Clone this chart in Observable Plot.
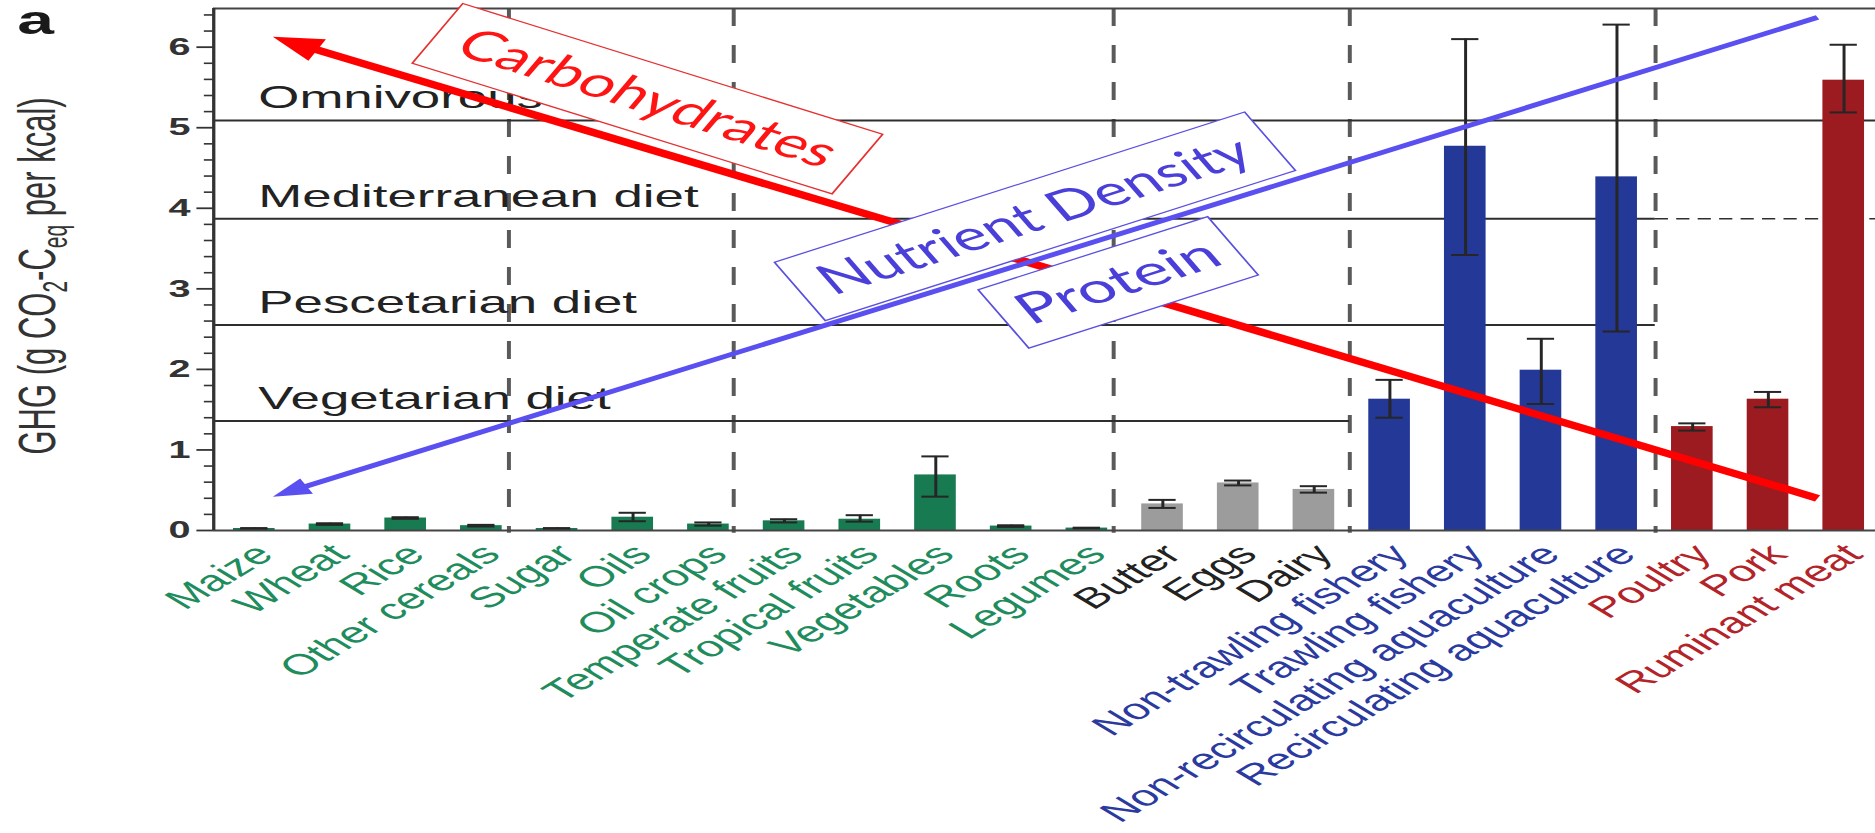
<!DOCTYPE html>
<html>
<head>
<meta charset="utf-8">
<script src="https://cdn.jsdelivr.net/npm/d3@7"></script>
<script src="https://cdn.jsdelivr.net/npm/@observablehq/plot@0.6"></script>
<style>
html, body { margin: 0; padding: 0; background: #fff; }
#chart svg { display: block; }
</style>
</head>
<body>
<div id="chart"></div>
<script>
// ---------- data ----------
const categories = ["Maize", "Wheat", "Rice", "Other cereals", "Sugar", "Oils", "Oil crops",
  "Temperate fruits", "Tropical fruits", "Vegetables", "Roots", "Legumes",
  "Butter", "Eggs", "Dairy",
  "Non-trawling fishery", "Trawling fishery", "Non-recirculating aquaculture", "Recirculating aquaculture",
  "Poultry", "Pork", "Ruminant meat"];
const foodGroups = ["plant", "plant", "plant", "plant", "plant", "plant", "plant",
  "plant", "plant", "plant", "plant", "plant",
  "animal", "animal", "animal",
  "fish", "fish", "fish", "fish",
  "meat", "meat", "meat"];
const ghgMean = [0.025, 0.08, 0.155, 0.06, 0.025, 0.165, 0.08, 0.12, 0.14, 0.69, 0.055, 0.03,
  0.33, 0.59, 0.51, 1.63, 4.77, 1.99, 4.39, 1.29, 1.63, 5.59];
const ghgLow = [0.02, 0.07, 0.145, 0.05, 0.02, 0.115, 0.06, 0.10, 0.11, 0.42, 0.045, 0.025,
  0.28, 0.56, 0.47, 1.40, 3.42, 1.57, 2.47, 1.24, 1.53, 5.19];
const ghgHigh = [0.03, 0.09, 0.165, 0.07, 0.03, 0.22, 0.10, 0.14, 0.19, 0.92, 0.065, 0.035,
  0.38, 0.62, 0.55, 1.87, 6.10, 2.38, 6.28, 1.33, 1.72, 6.03];
const groupSeparators = [3.36, 6.33, 11.35, 14.47, 18.51];

const dietNames = ["Omnivorous", "Mediterranean diet", "Pescetarian diet", "Vegetarian diet"];
const dietValues = [5.09, 3.87, 2.55, 1.36];
const dietLineEnds = [21.42, 18.51, 18.51, 14.47];

const yTicks = [0, 1, 2, 3, 4, 5, 6];
const yMinorTicks = [0.2, 0.4, 0.6, 0.8, 1.2, 1.4, 1.6, 1.8, 2.2, 2.4, 2.6, 2.8, 3.2, 3.4, 3.6, 3.8,
  4.2, 4.4, 4.6, 4.8, 5.2, 5.4, 5.6, 5.8, 6.2, 6.4];
const yLabelText = "GHG (g CO2-Ceq per kcal)";
const panelLetter = "a";

// annotations (x in category index units, y in GHG units)
const annotationLabels = ["Carbohydrates", "Nutrient Density", "Protein"];
const annotationX = [5.19, 10.31, 11.41];
const annotationY = [5.36, 3.90, 3.08];
const annotationAngle = [27.2, -27.8, -27.7];
const arrowNames = ["Carbohydrates", "Nutrient Density / Protein"];
const arrowFromX = [20.65, 20.65];
const arrowFromY = [0.40, 6.37];
const arrowToX = [0.24, 0.24];
const arrowToY = [6.13, 0.42];

// ---------- styles ----------
const barColor = {plant: "#177a50", animal: "#9c9c9c", fish: "#243897", meat: "#9c1b21"};
const labelColor = {plant: "#1f8c5e", animal: "#222222", fish: "#2b3a9e", meat: "#b3242a"};
const annColor = ["#ff1414", "#4a3fd8", "#4a3fd8"];
const boxColor = ["#e63030", "#5a50e0", "#5a50e0"];
const boxSize = [[286, 67], [322, 66], [157, 66]];
const textLen = [252, 290, 133];
const arrowColor = ["#ff0000", "#5a4ff0"];
const arrowWidth = [7, 4.6];
const headSize = [[24, 30], [17, 23]];
const headAngle = [-63.7, -117.1];

const W0 = 1136, H = 833, WFINAL = 1875;
const X0 = -0.54, X1 = 21.42, YTOP = 6.48;

const rows = categories.map((name, i) => ({i, name, group: foodGroups[i], mean: ghgMean[i], lo: ghgLow[i], hi: ghgHigh[i]}));
const diets = dietNames.map((name, k) => ({name, value: dietValues[k], end: dietLineEnds[k]}));
const annots = annotationLabels.map((t, k) => ({t, x: annotationX[k], y: annotationY[k], a: annotationAngle[k], c: annColor[k]}));
const arrows = arrowNames.map((n, k) => ({n, x1: arrowFromX[k], y1: arrowFromY[k], x2: arrowToX[k], y2: arrowToY[k], k}));

const boxSymbol = (w, h) => ({draw(ctx) {
  ctx.moveTo(-w / 2, -h / 2); ctx.lineTo(w / 2, -h / 2); ctx.lineTo(w / 2, h / 2); ctx.lineTo(-w / 2, h / 2); ctx.closePath();
}});
const headSymbol = (wid, len) => ({draw(ctx) {
  ctx.moveTo(0, 0); ctx.lineTo(wid / 2, len); ctx.lineTo(-wid / 2, len); ctx.closePath();
}});

function arrowMarks(k) {
  const a = arrows[k];
  // shaft stops a little before the tip, under the head
  const shaft = [{x1: a.x1, y1: a.y1, x2: a.x2 + (a.x1 - a.x2) * 0.012, y2: a.y2 + (a.y1 - a.y2) * 0.012}];
  return [
    Plot.link(shaft, {x1: "x1", y1: "y1", x2: "x2", y2: "y2", stroke: arrowColor[k], strokeWidth: arrowWidth[k]}),
    Plot.dot([a], {x: "x2", y: "y2", symbol: headSymbol(headSize[k][0], headSize[k][1]), rotate: headAngle[k], fill: arrowColor[k], stroke: "none", ariaLabel: "arrowhead"})
  ];
}

const chart = Plot.plot({
  width: W0, height: H,
  marginLeft: 129, marginRight: 0, marginTop: 8, marginBottom: 303,
  x: {domain: [X0, X1], axis: null},
  y: {domain: [0, YTOP], axis: null},
  color: {type: "identity"},
  style: {fontFamily: "'Liberation Sans', Arial, sans-serif", background: "#fff", overflow: "visible"},
  marks: [
    Plot.ruleX(groupSeparators, {y1: YTOP, y2: -0.035, stroke: "#5a5a5a", strokeWidth: 2.4, strokeDasharray: "18,19"}),
    Plot.ruleY(diets, {y: "value", x1: X0, x2: "end", stroke: "#2e2e2e", strokeWidth: 2}),
    Plot.ruleY([diets[1]], {y: "value", x1: dietLineEnds[1], x2: X1, stroke: "#2e2e2e", strokeWidth: 1.6, strokeDasharray: "8,5"}),
    Plot.rect(rows, {x1: d => d.i - 0.275, x2: d => d.i + 0.275, y1: 0, y2: "mean", fill: d => barColor[d.group]}),
    Plot.ruleX(rows, {x: "i", y1: "lo", y2: "hi", stroke: "#262626", strokeWidth: 1.8}),
    Plot.ruleY(rows, {y: "hi", x1: d => d.i - 0.18, x2: d => d.i + 0.18, stroke: "#262626", strokeWidth: 2}),
    Plot.ruleY(rows, {y: "lo", x1: d => d.i - 0.18, x2: d => d.i + 0.18, stroke: "#262626", strokeWidth: 2}),
    Plot.ruleY([0], {stroke: "#444", strokeWidth: 2}),
    Plot.ruleY([YTOP], {stroke: "#444", strokeWidth: 2}),
    Plot.ruleX([X0], {stroke: "#333", strokeWidth: 2}),
    Plot.axisY({ticks: yMinorTicks, tickSize: 5.5, stroke: "#333", strokeWidth: 1.6, fill: "none", label: null}),
    Plot.axisY({ticks: yTicks, tickSize: 10, tickPadding: 4, stroke: "#333", strokeWidth: 1.8, fill: "#333",
      fontSize: 24, fontWeight: "bold", label: null, tickFormat: d => String(d)}),
    Plot.text(diets, {x: X0, y: "value", text: "name", dx: 27, dy: -12, textAnchor: "start", lineAnchor: "bottom", fontSize: 32, fill: "#222"}),
    Plot.text(rows, {x: "i", y: 0, text: "name", rotate: -45, textAnchor: "end", lineAnchor: "top", dx: -2, dy: 11,
      fontSize: 29, fill: d => labelColor[d.group]}),
    Plot.text([yLabelText], {frameAnchor: "left", y: 3.16, text: d => d, rotate: -90, textAnchor: "middle", lineAnchor: "bottom",
      dx: -96, fontSize: 31, fill: "#333", ariaLabel: "ylabel"}),
    Plot.text([panelLetter], {frameAnchor: "top-left", text: d => d, dx: -119, dy: 25, textAnchor: "start", lineAnchor: "bottom",
      fontSize: 40, fontWeight: "bold", fill: "#1a1a1a"}),
    ...arrowMarks(0),
    ...annots.map((d, k) => Plot.dot([d], {x: "x", y: "y", symbol: boxSymbol(boxSize[k][0], boxSize[k][1]), rotate: d.a,
      fill: "#fff", stroke: boxColor[k], strokeWidth: 1.2})),
    Plot.text(annots, {x: "x", y: "y", text: "t", rotate: "a", fill: "c", fontFamily: "Lato, 'Open Sans', sans-serif",
      fontSize: 42, textAnchor: "middle", lineAnchor: "middle", ariaLabel: "annotation"}),
    ...arrowMarks(1)
  ]
});

// stretch horizontally like the reference figure
chart.setAttribute("width", WFINAL);
chart.setAttribute("height", H);
chart.setAttribute("preserveAspectRatio", "none");
chart.style.width = WFINAL + "px";
chart.style.height = H + "px";
chart.style.maxWidth = "none";

// annotation text lengths
d3.select(chart).selectAll("text").each(function () {
  const k = annotationLabels.indexOf(this.textContent);
  if (k >= 0) {
    this.setAttribute("textLength", textLen[k]);
    this.setAttribute("lengthAdjust", "spacingAndGlyphs");
  }
});

// subscripts in the y label
d3.select(chart).selectAll("text").filter(function () { return this.textContent === yLabelText; }).each(function () {
  const t = d3.select(this);
  t.text(null);
  t.append("tspan").text("GHG (g CO");
  t.append("tspan").attr("font-size", 21).attr("dy", 7).text("2");
  t.append("tspan").attr("dy", -7).text("-C");
  t.append("tspan").attr("font-size", 21).attr("dy", 7).text("eq");
  t.append("tspan").attr("dy", -7).text(" per kcal)");
});

document.getElementById("chart").appendChild(chart);
</script>
</body>
</html>
